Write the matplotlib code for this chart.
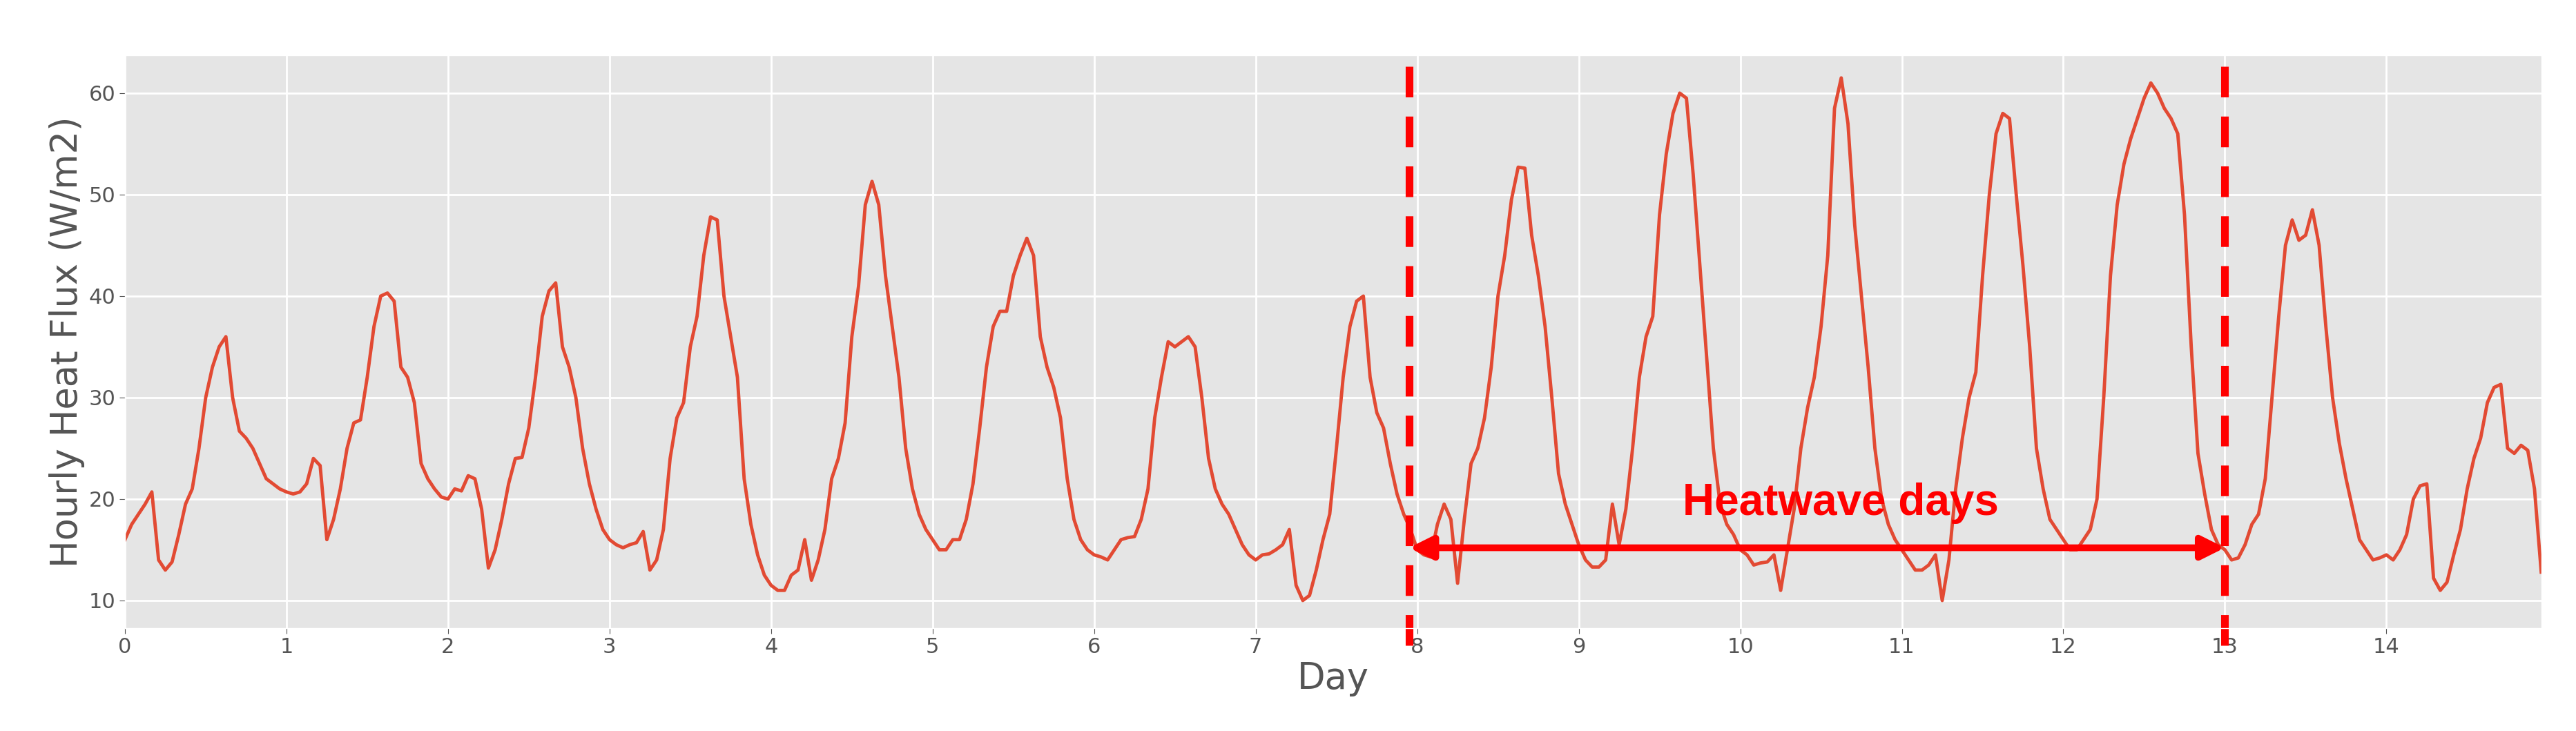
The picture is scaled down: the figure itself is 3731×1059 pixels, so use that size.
import matplotlib
matplotlib.use("Agg")
import matplotlib.pyplot as plt
import numpy as np

plt.style.use("ggplot")

day0 = [16,17.5,18.5,19.5,20.7,14,13,13.8,16.5,19.5,21,25,30,33,35,36,30,26.7,26,25,23.5,22,21.5,21]
day1 = [20.7,20.5,20.7,21.5,24,23.3,16,18,21,25,27.5,27.8,32,37,40,40.3,39.5,33,32,29.5,23.5,22,21,20.2]
day2 = [20,21,20.8,22.3,22,19,13.2,15,18,21.5,24,24.1,27,32,38,40.5,41.3,35,33,30,25,21.5,19,17]
day3 = [16,15.5,15.2,15.5,15.7,16.8,13,14,17,24,28,29.5,35,38,44,47.8,47.5,40,36,32,22,17.5,14.5,12.5]
day4 = [11.5,11,11,12.5,13,16,12,14,17,22,24,27.5,36,41,49,51.3,49,42,37,32,25,21,18.5,17]
day5 = [16,15,15,16,16,18,21.5,27,33,37,38.5,38.5,42,44,45.7,44,36,33,31,28,22,18,16,15]
day6 = [14.5,14.3,14,15,16,16.2,16.3,18,21,28,32,35.5,35,35.5,36,35,30,24,21,19.5,18.5,17,15.5,14.5]
day7 = [14,14.5,14.6,15,15.5,17,11.5,10,10.5,13,16,18.5,25,32,37,39.5,40,32,28.5,27,23.5,20.5,18.5,17]
day8 = [15,14.5,14.3,17.5,19.5,18,11.7,18,23.5,25,28,33,40,44,49.5,52.7,52.6,46,42,37,30,22.5,19.5,17.5]
day9 = [15.5,14,13.3,13.3,14,19.5,15.5,19,25,32,36,38,48,54,58,60,59.5,52,43,34,25,19.5,17.5,16.5]
day10 = [15,14.5,13.5,13.7,13.8,14.5,11,15,19,25,29,32,37,44,58.5,61.5,57,47,40,33,25,20,17.5,16]
day11 = [15,14,13,13,13.5,14.5,10,14,21,26,30,32.5,42,50,56,58,57.5,50,43,35,25,21,18,17]
day12 = [16,15,15,16,17,20,30,42,49,53,55.5,57.5,59.5,61,60,58.5,57.5,56,48,35,24.5,20.5,17,15.5]
day13 = [15,14,14.2,15.5,17.5,18.5,22,30,38,45,47.5,45.5,46,48.5,45,37,30,25.5,22,19,16,15,14,14.2]
day14 = [14.5,14,15,16.5,20,21.3,21.5,12.2,11,11.8,14.5,17,21,24,26,29.5,31,31.3,25,24.5,25.3,24.8,21,12.8]

flux = np.array(day0+day1+day2+day3+day4+day5+day6+day7+day8+day9+day10+day11+day12+day13+day14)
days = np.arange(len(flux)) / 24.0

hw_start, hw_end = 7.95, 13.0
hw_label = "Heatwave days"

fig = plt.figure(figsize=(37.31, 10.59), dpi=100)
ax = fig.add_axes([0.0485, 0.141, 0.938, 0.783])
ax.plot(days, flux, color="#E24A33", lw=3.5)
ax.set_xlim(0, days[-1])
ax.set_ylim(7.3, 63.7)
ax.set_xticks(range(0, 15))
ax.set_yticks([10, 20, 30, 40, 50, 60])
ax.tick_params(labelsize=22, colors="#555555", length=6)
ax.set_xlabel("Day", fontsize=38, color="#555555")
ax.set_ylabel("Hourly Heat Flux (W/m2)", fontsize=38, color="#555555")
ax.grid(True, color="white", lw=2)

for xv in (hw_start, hw_end):
    ax.axvline(xv, color="red", lw=8, ls=(0, (4, 2.5)), ymin=-0.03, clip_on=False)
ax.annotate("", xy=(hw_start, 15.2), xytext=(hw_end, 15.2),
            arrowprops=dict(arrowstyle="<|-|>", color="red", lw=7, mutation_scale=50, shrinkA=0, shrinkB=0))
ax.text(10.62, 19.6, hw_label, color="red", fontsize=46, fontweight="bold",
        family=["Liberation Sans", "DejaVu Sans"], ha="center", va="center")

fig.savefig("out.png", dpi=100)
